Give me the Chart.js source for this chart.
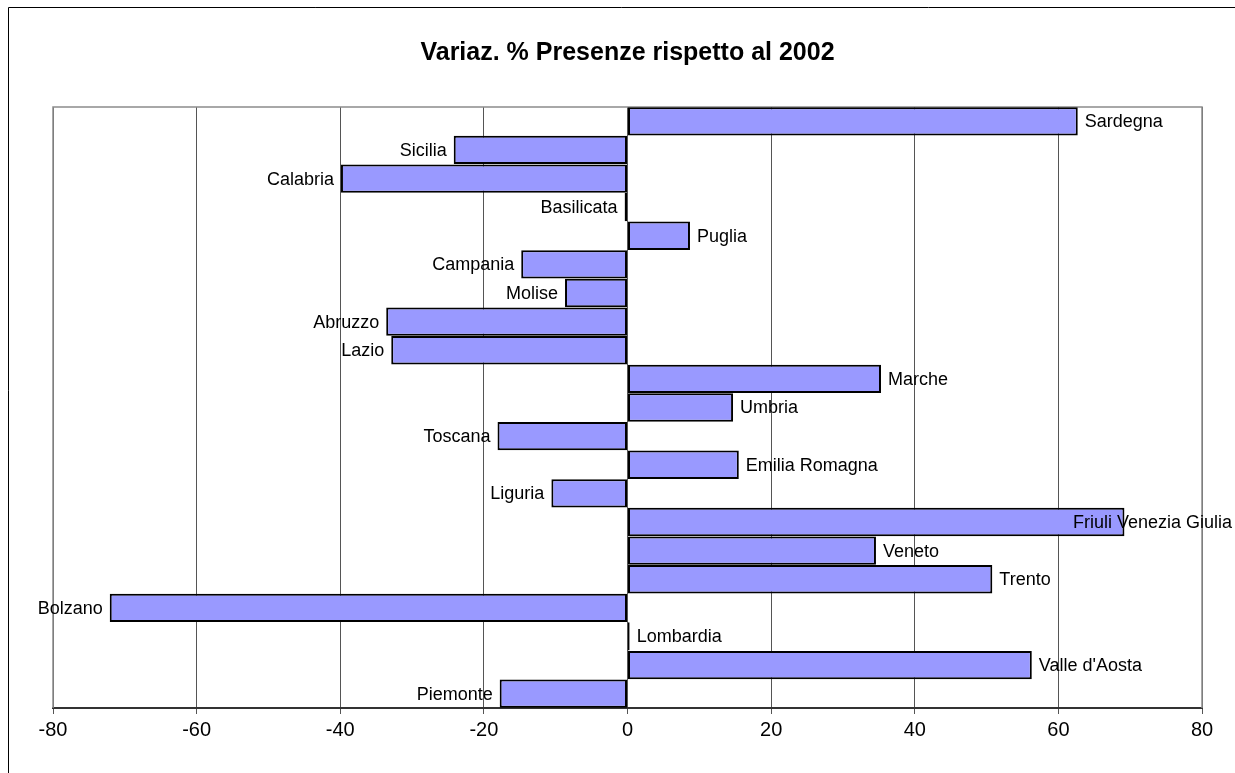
<!DOCTYPE html>
<html><head><meta charset="utf-8">
<script src="https://cdn.jsdelivr.net/npm/chart.js@4/dist/chart.umd.min.js"></script>
<style>html,body{margin:0;padding:0;background:#fff}#wrap{width:1235px;height:773px;position:relative}</style>
</head><body><div id="wrap"><canvas id="c" width="1235" height="773"></canvas></div>
<script>
const regions = ['Sardegna','Sicilia','Calabria','Basilicata','Puglia','Campania','Molise','Abruzzo','Lazio','Marche','Umbria','Toscana','Emilia Romagna','Liguria','Friuli Venezia Giulia','Veneto','Trento','Bolzano','Lombardia',"Valle d'Aosta",'Piemonte'];
const variazione = [62.7,-24.2,-39.9,-0.4,8.7,-14.8,-8.7,-33.6,-32.9,35.3,14.7,-18.1,15.5,-10.6,69.2,34.6,50.8,-72.1,0.3,56.3,-17.8];
const xTicks = [-80,-60,-40,-20,0,20,40,60,80];
const chartTitle = 'Variaz. % Presenze rispetto al 2002';
const FONT = "'Liberation Sans', Arial, sans-serif";

const framePlugin = {
  id: 'frame',
  beforeDraw(chart) {
    const ctx = chart.ctx;
    ctx.save();
    ctx.fillStyle = '#fff';
    ctx.fillRect(0, 0, chart.width, chart.height);
    ctx.strokeStyle = '#000';
    ctx.lineWidth = 1;
    ctx.beginPath();
    ctx.moveTo(8.5, chart.height);
    ctx.lineTo(8.5, 7.5);
    ctx.lineTo(chart.width, 7.5);
    ctx.stroke();
    ctx.restore();
  },
  beforeDatasetsDraw(chart) {
    const a = chart.chartArea, ctx = chart.ctx;
    ctx.save();
    ctx.strokeStyle = '#8c8c8c';
    ctx.lineWidth = 1.5;
    ctx.beginPath();
    ctx.moveTo(a.left, a.bottom);
    ctx.lineTo(a.left, a.top);
    ctx.lineTo(a.right, a.top);
    ctx.lineTo(a.right, a.bottom);
    ctx.stroke();
    ctx.restore();
  }
};

const labelPlugin = {
  id: 'barLabels',
  afterDatasetsDraw(chart) {
    const ctx = chart.ctx;
    const meta = chart.getDatasetMeta(0);
    ctx.save();
    ctx.font = '18px ' + FONT;
    ctx.fillStyle = '#000';
    ctx.textBaseline = 'middle';
    meta.data.forEach((el, i) => {
      const v = variazione[i];
      const txt = regions[i];
      const w = ctx.measureText(txt).width;
      if (v >= 0) {
        let x = Math.max(el.x, el.base) + 7;
        x = Math.min(x, chart.width - 3 - w);
        ctx.textAlign = 'left';
        ctx.fillText(txt, x, el.y + 1);
      } else {
        ctx.textAlign = 'right';
        ctx.fillText(txt, Math.min(el.x, el.base) - 7, el.y + 1);
      }
    });
    ctx.restore();
  }
};

new Chart(document.getElementById('c'), {
  type: 'bar',
  data: {
    labels: regions,
    datasets: [{
      data: variazione,
      backgroundColor: '#9999FF',
      borderColor: '#000',
      borderWidth: 2,
      borderSkipped: false,
      barPercentage: 1,
      categoryPercentage: 0.99
    }]
  },
  options: {
    indexAxis: 'y',
    responsive: false,
    animation: false,
    devicePixelRatio: 1,
    layout: { padding: { left: 53, right: 33, top: 0, bottom: 0 } },
    plugins: {
      legend: { display: false },
      tooltip: { enabled: false },
      title: {
        display: true,
        text: chartTitle,
        color: '#000',
        font: { family: FONT, size: 25, weight: 'bold' },
        padding: { top: 38, bottom: 39 }
      }
    },
    scales: {
      x: {
        type: 'linear',
        min: -80, max: 80,
        afterBuildTicks(scale) { scale.ticks = xTicks.map(v => ({ value: v })); },
        afterFit(scale) { scale.height = 65; },
        ticks: { color: '#000', font: { family: FONT, size: 20 }, padding: 4 },
        grid: { color: '#555', lineWidth: 1, tickLength: 6, drawTicks: true },
        border: { color: '#333', width: 2 }
      },
      y: {
        type: 'category',
        display: false,
        grid: { display: false }
      }
    }
  },
  plugins: [framePlugin, labelPlugin]
});
</script>
</body></html>
